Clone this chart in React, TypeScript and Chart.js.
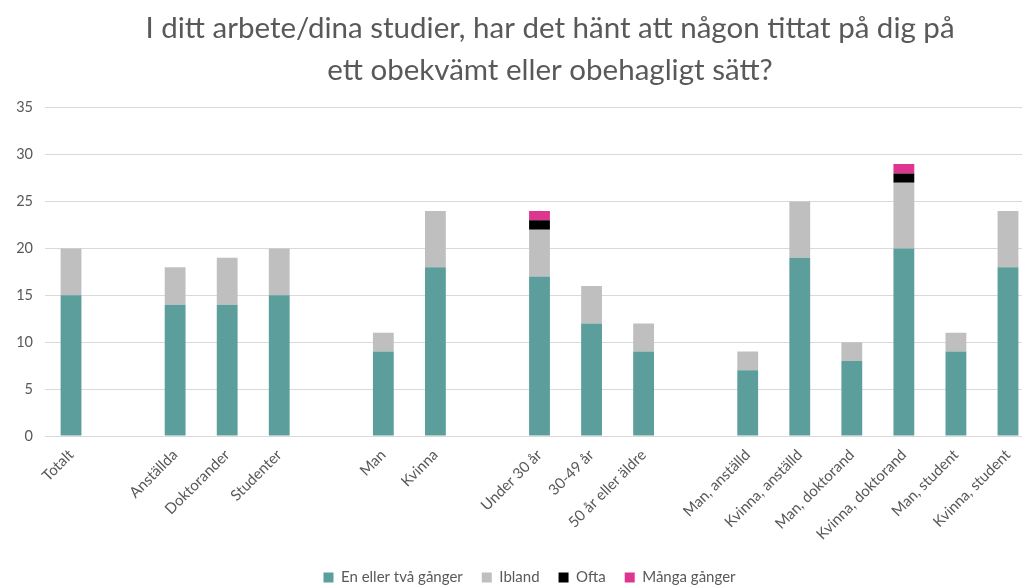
import React, { useEffect, useRef } from 'react';
import { Chart, registerables } from 'chart.js';

Chart.register(...registerables);

const titleLines = [
  'I ditt arbete/dina studier, har det hänt att någon tittat på dig på',
  'ett obekvämt eller obehagligt sätt?',
];

const categories = [
  'Totalt', '', 'Anställda', 'Doktorander', 'Studenter', '',
  'Man', 'Kvinna', '', 'Under 30 år', '30-49 år', '50 år eller äldre', '',
  'Man, anställd', 'Kvinna, anställd', 'Man, doktorand', 'Kvinna, doktorand',
  'Man, student', 'Kvinna, student',
];

const seriesNames = ['En eller två gånger', 'Ibland', 'Ofta', 'Många gånger'];

const enEllerTva = [15, null, 14, 14, 15, null, 9, 18, null, 17, 12, 9, null, 7, 19, 8, 20, 9, 18];
const ibland = [5, null, 4, 5, 5, null, 2, 6, null, 5, 4, 3, null, 2, 6, 2, 7, 2, 6];
const ofta = [0, null, 0, 0, 0, null, 0, 0, null, 1, 0, 0, null, 0, 0, 0, 1, 0, 0];
const mangaGanger = [0, null, 0, 0, 0, null, 0, 0, null, 1, 0, 0, null, 0, 0, 0, 1, 0, 0];

const yMax = 35;
const yStep = 5;

const colors = ['#5B9E9C', '#BFBFBF', '#000000', '#DE3590'];

const FONT = 'Lato, "Open Sans", sans-serif';
const TEXT = '#595959';

const shiftPlugin = {
  id: 'shiftBoxes',
  afterLayout(chart: any) {
    const t = chart.titleBlock;
    if (t) { t.left += 33; t.right += 33; }
    const l = chart.legend;
    if (l) { l.left -= 10; l.right -= 10; }
  },
};

export default function App() {
  const ref = useRef<HTMLCanvasElement | null>(null);

  useEffect(() => {
    if (!ref.current) return;
    const seriesData = [enEllerTva, ibland, ofta, mangaGanger];
    const chart = new Chart(ref.current, {
      type: 'bar',
      data: {
        labels: categories,
        datasets: seriesData.map((d, i) => ({
          label: seriesNames[i],
          data: d,
          backgroundColor: colors[i],
          borderWidth: 0,
          barPercentage: 0.4,
          categoryPercentage: 1,
        })),
      },
      plugins: [shiftPlugin],
      options: {
        responsive: false,
        animation: false,
        layout: { padding: { left: 0, right: 66, top: 0, bottom: 0 } },
        plugins: {
          title: {
            display: true,
            text: titleLines,
            color: TEXT,
            font: { family: FONT, size: 29.5, weight: 'normal', lineHeight: 1.42 },
            padding: { top: 8, bottom: 16 },
          },
          legend: {
            position: 'bottom',
            fullSize: false,
            labels: {
              boxWidth: 10,
              boxHeight: 10,
              color: TEXT,
              font: { family: FONT, size: 15 },
              padding: 19,
            },
          },
          tooltip: { enabled: false },
        },
        scales: {
          x: {
            stacked: true,
            grid: { display: false },
            border: { display: false },
            ticks: {
              autoSkip: false,
              maxRotation: 45,
              minRotation: 45,
              color: TEXT,
              font: { family: FONT, size: 15 },
              padding: 2,
            },
            afterFit: (s: any) => { s.height = 115; },
          },
          y: {
            stacked: true,
            min: 0,
            max: yMax,
            ticks: {
              stepSize: yStep,
              color: TEXT,
              font: { family: FONT, size: 14.5 },
              padding: 12,
            },
            grid: { color: '#D9D9D9', drawTicks: false },
            border: { display: false },
            afterFit: (s: any) => { s.width = 45; },
          },
        },
      },
    });
    return () => chart.destroy();
  }, []);

  return (
    <div style={{ position: 'fixed', left: 0, top: 0, width: 1022, height: 586, overflow: 'hidden', background: '#fff' }}>
      <canvas ref={ref} width={1100} height={595} style={{ display: 'block' }} />
    </div>
  );
}
